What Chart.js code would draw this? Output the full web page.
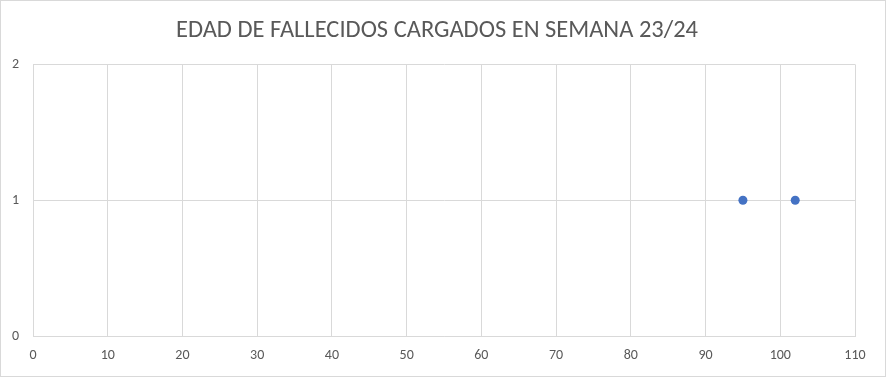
<!DOCTYPE html>
<html>
<head>
<meta charset="utf-8">
<script src="https://cdn.jsdelivr.net/npm/chart.js@4/dist/chart.umd.min.js"></script>
<style>
  body { margin: 0; background: #fff; }
  #wrap { width: 886px; height: 377px; box-sizing: border-box; border: 1px solid #d9d9d9; }
  canvas { display: block; }
</style>
</head>
<body>
<div id="wrap"><canvas id="myChart" width="884" height="375"></canvas></div>
<script>
// chart data
const chartTitle = 'EDAD DE FALLECIDOS CARGADOS EN SEMANA 23/24';
const edades = [95, 102];     // age (x)
const cantidad = [1, 1];      // count (y)
const xTicks = [0, 10, 20, 30, 40, 50, 60, 70, 80, 90, 100, 110];
const yTicks = [0, 1, 2];

const textColor = '#595959';
const gridColor = '#d9d9d9';
const fontFamily = "Calibri, Carlito, 'Liberation Sans Narrow', 'Open Sans', sans-serif";

let ctx = document.getElementById('myChart');

let myChart = new Chart(ctx, {
  type: 'scatter',
  data: {
    datasets: [{
      data: edades.map((x, i) => ({ x: x, y: cantidad[i] })),
      backgroundColor: '#4472C4',
      borderColor: '#4472C4',
      borderWidth: 0,
      pointRadius: 4.5,
      pointHoverRadius: 4.5
    }]
  },
  options: {
    responsive: false,
    animation: false,
    layout: { padding: { left: 0, right: 12, top: 0, bottom: 0 } },
    plugins: {
      legend: { display: false },
      tooltip: { enabled: false },
      title: {
        display: true,
        text: chartTitle,
        color: textColor,
        font: { family: fontFamily, size: 24.5, weight: 'normal' },
        padding: { top: 15, bottom: 19 }
      }
    },
    scales: {
      x: {
        type: 'linear',
        min: xTicks[0],
        max: xTicks[xTicks.length - 1],
        afterBuildTicks: s => { s.ticks = xTicks.map(v => ({ value: v })); },
        afterFit: s => { s.height = 40; },
        grid: { color: gridColor, lineWidth: 1, drawTicks: false },
        border: { color: gridColor },
        ticks: { color: textColor, padding: 11, font: { family: fontFamily, size: 14 } }
      },
      y: {
        type: 'linear',
        min: yTicks[0],
        max: yTicks[yTicks.length - 1],
        afterBuildTicks: s => { s.ticks = yTicks.map(v => ({ value: v })); },
        afterFit: s => { s.width = 32; },
        grid: { color: gridColor, lineWidth: 1, drawTicks: false },
        border: { color: gridColor },
        ticks: { color: textColor, padding: 14, font: { family: fontFamily, size: 14 } }
      },
      // empty right-side spacer so the title centres like the original
      y2: {
        position: 'right',
        afterFit: s => { s.width = 18; },
        grid: { display: false, drawTicks: false },
        border: { display: false },
        ticks: { display: false }
      }
    }
  }
});
</script>
</body>
</html>
